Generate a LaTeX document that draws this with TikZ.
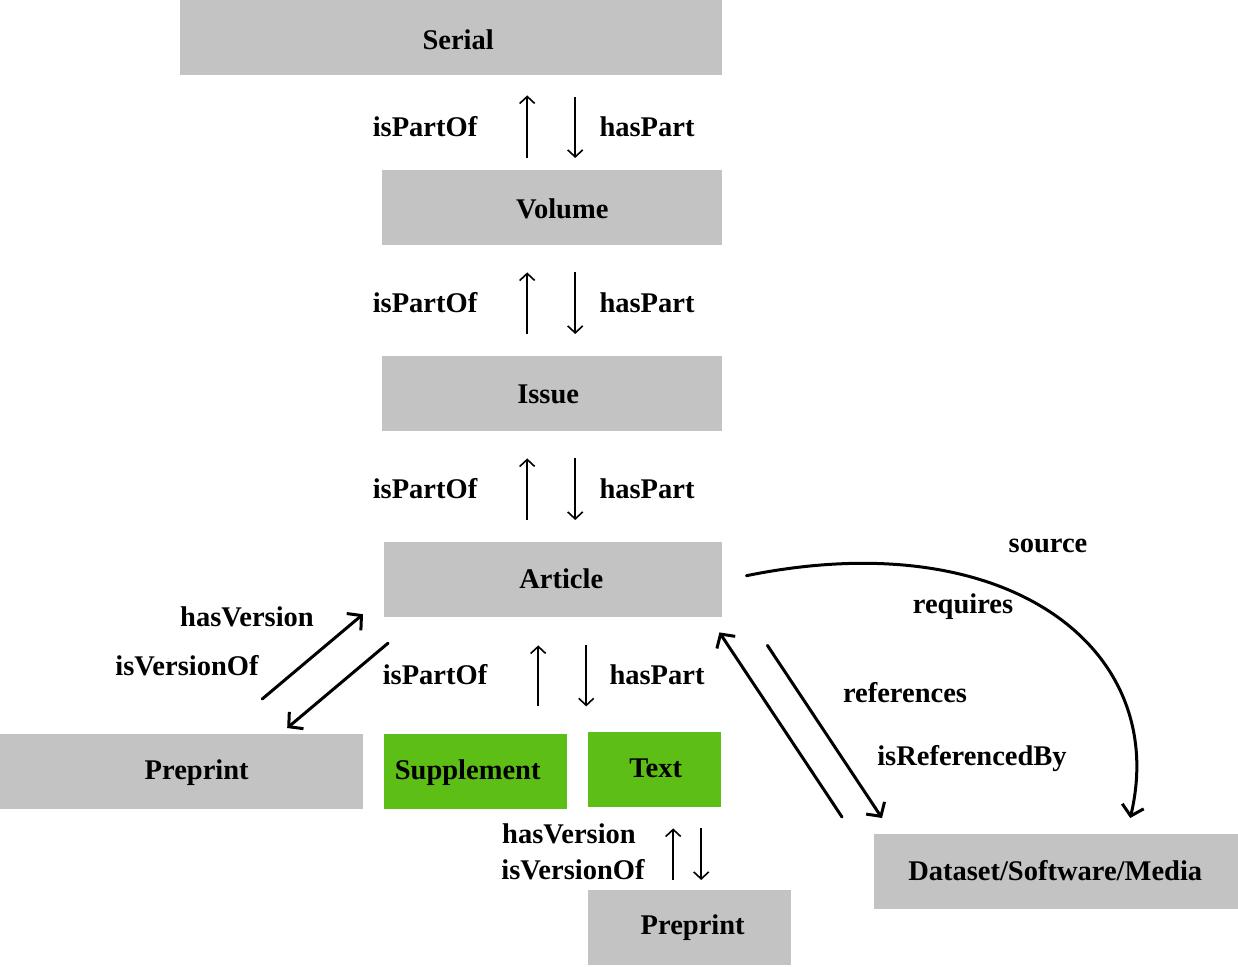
\documentclass[tikz,border=0pt]{standalone}
\usepackage{fontspec}
\setmainfont{Liberation Serif}
\usetikzlibrary{arrows.meta,calc}
\definecolor{boxgray}{HTML}{C3C3C3}
\definecolor{boxgreen}{HTML}{5DBE15}
\begin{document}
\begin{tikzpicture}[x=1pt,y=-1pt,
  font=\fontsize{28.5}{31}\selectfont\bfseries,
  box/.style={fill=boxgray,draw=none,inner sep=0pt,anchor=north west},
  gbox/.style={fill=boxgreen,draw=none,inner sep=0pt,anchor=north west},
  lbl/.style={inner sep=0pt,anchor=center},
  thin/.style={line width=1.6pt,-{Straight Barb[length=7pt,width=15pt,line width=1.6pt]}},
  thick/.style={line width=3pt,line cap=round,-{Straight Barb[length=10pt,width=22pt,line width=3pt]}}]
\useasboundingbox[fill=white] (0,0) rectangle (1238,966);
% boxes
\node[box,minimum width=542pt,minimum height=75pt,label={[lbl,xshift=7pt,yshift=-2pt]center:Serial}] (serial) at (180,0) {};
\node[box,minimum width=340pt,minimum height=75pt,label={[lbl,xshift=10pt,yshift=-1pt]center:Volume}] (vol) at (382,170) {};
\node[box,minimum width=340pt,minimum height=75pt,label={[lbl,xshift=-4pt,yshift=-1pt]center:Issue}] (iss) at (382,356) {};
\node[box,minimum width=338pt,minimum height=75pt,label={[lbl,xshift=8pt,yshift=1pt]center:Article}] (art) at (384,542) {};
\node[box,minimum width=363pt,minimum height=75pt,label={[lbl,xshift=15pt,yshift=-1pt]center:Preprint}] (pre1) at (0,734) {};
\node[gbox,minimum width=183pt,minimum height=75pt,label={[lbl,xshift=-8pt,yshift=-1pt]center:Supplement}] (supp) at (384,734) {};
\node[gbox,minimum width=133pt,minimum height=75pt,label={[lbl,xshift=1pt,yshift=1pt]center:Text}] (text) at (588,732) {};
\node[box,minimum width=203pt,minimum height=75pt,label={[lbl,xshift=3pt,yshift=0pt]center:Preprint}] (pre2) at (588,890) {};
\node[box,minimum width=364pt,minimum height=75pt,label={[lbl,xshift=-1pt,yshift=1pt]center:Dataset/Software/Media}] (data) at (874,834) {};
% Serial - Volume
\draw[thin] ($(vol.north)+(-25,-12)$) -- ($(serial.south)+(76,20)$);
\draw[thin] ($(serial.south)+(124,22)$) -- ($(vol.north)+(23,-12)$);
\node[lbl] (l1a) at (425,127) {isPartOf};
\node[lbl] (l1b) at (647,127) {hasPart};
% Volume - Issue
\draw[thin] ($(iss.north)+(-25,-22)$) -- ($(vol.south)+(-25,27)$);
\draw[thin] ($(vol.south)+(23,27)$) -- ($(iss.north)+(23,-22)$);
\node[lbl] (l2a) at (425,303) {isPartOf};
\node[lbl] (l2b) at (647,303) {hasPart};
% Issue - Article
\draw[thin] ($(art.north)+(-26,-22)$) -- ($(iss.south)+(-25,27)$);
\draw[thin] ($(iss.south)+(23,27)$) -- ($(art.north)+(22,-22)$);
\node[lbl] (l3a) at (425,489) {isPartOf};
\node[lbl] (l3b) at (647,489) {hasPart};
% Article - Supplement/Text
\draw[thin] ($(art.south)+(-15,89)$) -- ($(art.south)+(-15,28)$);
\draw[thin] ($(art.south)+(33,28)$) -- ($(art.south)+(33,89)$);
\node[lbl] (l4a) at (435,675) {isPartOf};
\node[lbl] (l4b) at (657,675) {hasPart};
% Article - Preprint (left)
\draw[thick] ($(pre1.north)+(80.5,-35)$) -- ($(art.west)+(-21,34.5)$);
\draw[thick] ($(art.west)+(4,63.5)$) -- ($(pre1.north)+(105.5,-6)$);
\node[lbl] (l5a) at (247,617) {hasVersion};
\node[lbl] (l5b) at (187,666) {isVersionOf};
% Text - Preprint (bottom)
\draw[thin] ($(pre2.north)+(-16.5,-10)$) -- ($(text.south)+(18.5,21)$);
\draw[thin] ($(text.south)+(46.5,21)$) -- ($(pre2.north)+(11.5,-10)$);
\node[lbl] (l6a) at (569,834) {hasVersion};
\node[lbl] (l6b) at (573,870) {isVersionOf};
% Article - Dataset (references)
\draw[thick] ($(data.north west)+(-32,-17)$) -- ($(art.south east)+(-3,15)$);
\draw[thick] ($(art.south east)+(45,28)$) -- ($(data.north west)+(8,-16)$);
\node[lbl] (l7a) at (905,693) {references};
\node[lbl] (l7b) at (972,759) {isReferencedBy};
% Article - Dataset (source / requires)
\draw[thick] ($(art.east)+(24,-4)$) .. controls (1010,522) and (1170,650) .. ($(data.north)+(74,-16)$);
\node[lbl] (l8a) at (1048,546) {source};
\node[lbl] (l8b) at (963,607) {requires};
\end{tikzpicture}
\end{document}
